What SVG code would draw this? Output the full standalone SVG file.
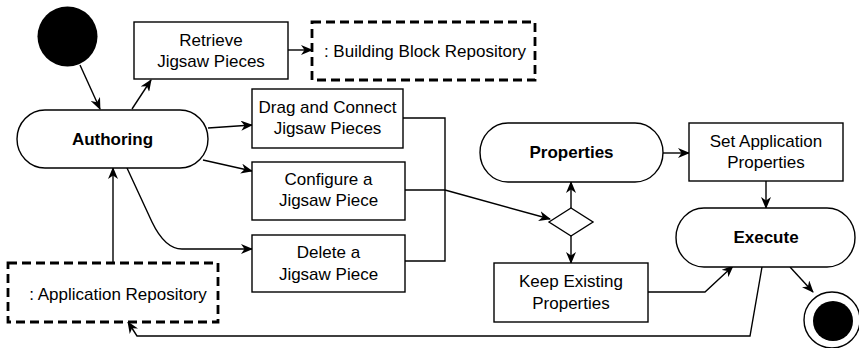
<svg xmlns="http://www.w3.org/2000/svg" width="859" height="348" viewBox="0 0 859 348">
<defs>
<marker id="arr" markerWidth="12" markerHeight="10" refX="11" refY="5" orient="auto" markerUnits="userSpaceOnUse">
<path d="M0,0 L12,5 L0,10 L3.5,5 Z" fill="#000"/>
</marker>
</defs>
<style>
.box{fill:#fff;stroke:#000;stroke-width:1.4}
.dash{fill:#fff;stroke:#000;stroke-width:2.8;stroke-dasharray:9 5}
.t{font-family:"Liberation Sans",Arial,sans-serif;font-size:17px;fill:#000;text-anchor:middle}
.b{font-weight:bold}
.c{fill:none;stroke:#000;stroke-width:1.4}
</style>
<rect width="859" height="348" fill="#fff"/>
<g id="connectors">
<path class="c" d="M80,65 L100,109" marker-end="url(#arr)"/>
<path class="c" d="M132,109 L151,80" marker-end="url(#arr)"/>
<path class="c" d="M288,50 L312,50" marker-end="url(#arr)"/>
<path class="c" d="M208,128 L252,125" marker-end="url(#arr)"/>
<path class="c" d="M203,160 L252,171" marker-end="url(#arr)"/>
<path class="c" d="M127,168 L152,222 Q165,249 182,249 L252,249" marker-end="url(#arr)"/>
<path class="c" d="M113,263 L113,168" marker-end="url(#arr)"/>
<path class="c" d="M403,118 L445,118 L445,261 L405,261"/>
<path class="c" d="M405,190 L445,190"/>
<path class="c" d="M445,190 L550,219" stroke-width="2.2" marker-end="url(#arr)"/>
<path class="c" d="M571,208 L571,182" marker-end="url(#arr)"/>
<path class="c" d="M571,236 L571,263" marker-end="url(#arr)"/>
<path class="c" d="M663,153 L689,153" marker-end="url(#arr)"/>
<path class="c" d="M766,181 L766,208" marker-end="url(#arr)"/>
<path class="c" d="M648,292 L705,292 L733,266" marker-end="url(#arr)"/>
<path class="c" d="M790,267 L813,292" marker-end="url(#arr)"/>
<path class="c" d="M762,267 L750,336 L137,336 L128,322" marker-end="url(#arr)"/>
</g>
<g id="start"><circle cx="67.5" cy="36.5" r="30" fill="#000"/></g>
<g id="retrieve">
<rect class="box" x="134" y="22" width="154" height="57"/>
<text class="t" x="211" y="46">Retrieve</text>
<text class="t" x="211" y="67">Jigsaw Pieces</text>
</g>
<g id="bbrepo">
<rect class="dash" x="312" y="22" width="223" height="58"/>
<text class="t" x="425" y="57">: Building Block Repository</text>
</g>
<g id="authoring">
<rect class="box" x="17" y="110" width="191" height="58" rx="28" ry="29"/>
<text class="t b" x="112.5" y="145">Authoring</text>
</g>
<g id="drag">
<rect class="box" x="252" y="89" width="151" height="59"/>
<text class="t" x="327.5" y="113">Drag and Connect</text>
<text class="t" x="327.5" y="134">Jigsaw Pieces</text>
</g>
<g id="configure">
<rect class="box" x="252" y="162" width="153" height="58"/>
<text class="t" x="328.5" y="185">Configure a</text>
<text class="t" x="328.5" y="206">Jigsaw Piece</text>
</g>
<g id="delete">
<rect class="box" x="252" y="235" width="153" height="57"/>
<text class="t" x="328.5" y="258">Delete a</text>
<text class="t" x="328.5" y="280">Jigsaw Piece</text>
</g>
<g id="apprepo">
<rect class="dash" x="8" y="263" width="210" height="59"/>
<text class="t" x="118" y="300">: Application Repository</text>
</g>
<g id="properties">
<rect class="box" x="480" y="123" width="183" height="59" rx="28" ry="29.5"/>
<text class="t b" x="571.5" y="158">Properties</text>
</g>
<g id="decision">
<polygon class="box" points="549,222 571,208 593,222 571,236"/>
</g>
<g id="setprops">
<rect class="box" x="689" y="123" width="154" height="58"/>
<text class="t" x="766" y="147">Set Application</text>
<text class="t" x="766" y="168">Properties</text>
</g>
<g id="keep">
<rect class="box" x="494" y="263" width="154" height="59"/>
<text class="t" x="571" y="287">Keep Existing</text>
<text class="t" x="571" y="309">Properties</text>
</g>
<g id="execute">
<rect class="box" x="676" y="208" width="179" height="59" rx="28" ry="29.5"/>
<text class="t b" x="766" y="243">Execute</text>
</g>
<g id="end">
<circle cx="832" cy="320" r="28" fill="#fff" stroke="#000" stroke-width="1.4"/>
<circle cx="833" cy="321" r="20" fill="#000"/>
</g>
</svg>
